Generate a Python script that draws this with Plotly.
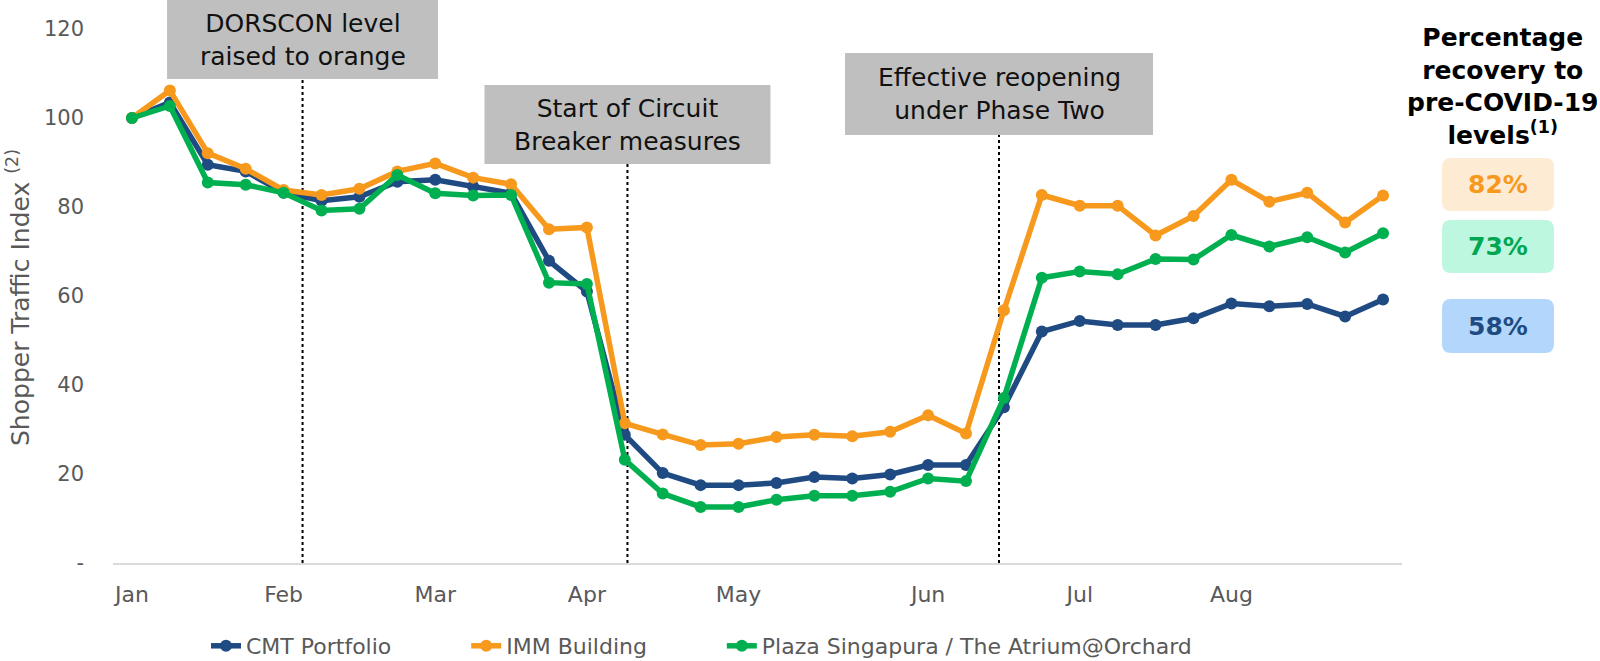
import plotly.graph_objects as go

# ---------------- data ----------------
weeks = list(range(34))
month_tick_pos = [0, 4, 8, 12, 16, 21, 25, 29]
month_labels = ["Jan", "Feb", "Mar", "Apr", "May", "Jun", "Jul", "Aug"]
y_tick_vals = [0, 20, 40, 60, 80, 100, 120]
y_tick_text = ["-", "20", "40", "60", "80", "100", "120"]

cmt = [100, 103.5, 89.5, 88.0, 83.2, 81.4, 82.3, 85.7, 86.1, 84.6, 83.1, 67.9, 61.0,
       28.8, 20.2, 17.5, 17.5, 18.0, 19.3, 19.0, 19.9, 22.0, 22.0,
       35.0, 52.0, 54.4, 53.5, 53.5, 55.0, 58.3, 57.7, 58.2, 55.4, 59.2]
imm = [100, 106.2, 92.1, 88.6, 83.8, 82.7, 84.1, 88.0, 89.8, 86.6, 85.1, 75.0, 75.4,
       31.4, 28.9, 26.5, 26.8, 28.3, 28.8, 28.5, 29.5, 33.2, 29.1,
       56.8, 82.7, 80.3, 80.3, 73.6, 78.0, 86.1, 81.2, 83.2, 76.5, 82.6]
plaza = [100, 102.7, 85.5, 85.0, 83.2, 79.2, 79.6, 87.2, 83.1, 82.6, 82.7, 63.0, 62.7,
         23.2, 15.6, 12.6, 12.6, 14.2, 15.1, 15.1, 16.0, 19.0, 18.4,
         37.1, 64.1, 65.5, 64.9, 68.3, 68.2, 73.7, 71.1, 73.2, 69.8, 74.1]

series_names = ["CMT Portfolio", "IMM Building", "Plaza Singapura / The Atrium@Orchard"]

event_pos = [4.5, 13.07, 22.87]
event_text = ["DORSCON level<br>raised to orange",
              "Start of Circuit<br>Breaker measures",
              "Effective reopening<br>under Phase Two"]

recovery_labels = ["82%", "73%", "58%"]

# ---------------- styling / layout constants ----------------
W, H = 1600, 661
ML, MR, MT, MB = 113, 198, 29, 98
PW = W - ML - MR
PH = H - MT - MB
XMIN, XMAX = -0.5, 33.5
STEP = PW / (XMAX - XMIN)

def px_x(px):
    return (px - ML) / PW

def px_y(py):
    return (H - MB - py) / PH

FONT = "DejaVu Sans"
GREY = "#595959"
colors = ["#1F4B82", "#F7991C", "#00B050"]
NB = "\u00a0"
legend_pad = [10, 10, 0]   # spacing between legend entries

fig = go.Figure()
for name, vals, col, pad in zip(series_names, [cmt, imm, plaza], colors, legend_pad):
    fig.add_trace(go.Scatter(
        x=weeks, y=vals, name=name + NB * pad, mode="lines+markers",
        line=dict(color=col, width=5.5),
        marker=dict(color=col, size=12),
    ))

shapes = []
annotations = []

# event boxes (pixel widths / vertical extents)
box_w_px = [271, 286, 308]
box_top_px = [-5, 85, 53]
box_bot_px = [79, 164, 135]
for pos, txt, wpx, tpx, bpx in zip(event_pos, event_text, box_w_px, box_top_px, box_bot_px):
    half = wpx / STEP / 2
    shapes.append(dict(type="rect", xref="x", yref="paper",
                       x0=pos - half, x1=pos + half,
                       y0=px_y(bpx), y1=px_y(tpx),
                       fillcolor="#BFBFBF", line=dict(width=0), layer="above"))
    shapes.append(dict(type="line", xref="x", yref="paper",
                       x0=pos, x1=pos, y0=0, y1=px_y(bpx),
                       line=dict(color="#000000", width=2, dash="dot"), layer="below"))
    annotations.append(dict(xref="x", yref="paper", x=pos,
                            y=px_y((max(tpx, 0) + bpx) / 2),
                            text=txt, showarrow=False, xanchor="center", yanchor="middle",
                            font=dict(family=FONT, size=25, color="#111111")))

# right panel title
annotations.append(dict(xref="paper", yref="paper", x=px_x(1503), y=px_y(86),
                        text="<b>Percentage<br>recovery to<br>pre-COVID-19<br>levels<sup>(1)</sup></b>",
                        showarrow=False, xanchor="center", yanchor="middle",
                        font=dict(family=FONT, size=25, color="#000000")))

# recovery badges
badge_bg = ["#FEEBD3", "#BDF7DF", "#B3D7FC"]
badge_fg = ["#F7991C", "#00A651", "#1F4B82"]
badge_y = [(158, 211), (220, 273), (299, 353)]
bx0, bx1 = 1442, 1554
r = 9

def rounded_rect(x0, y0, x1, y1, r):
    X = px_x
    Y = px_y
    return (f"M{X(x0 + r)},{Y(y0)} L{X(x1 - r)},{Y(y0)} Q{X(x1)},{Y(y0)} {X(x1)},{Y(y0 + r)} "
            f"L{X(x1)},{Y(y1 - r)} Q{X(x1)},{Y(y1)} {X(x1 - r)},{Y(y1)} "
            f"L{X(x0 + r)},{Y(y1)} Q{X(x0)},{Y(y1)} {X(x0)},{Y(y1 - r)} "
            f"L{X(x0)},{Y(y0 + r)} Q{X(x0)},{Y(y0)} {X(x0 + r)},{Y(y0)} Z")

for lab, bg, fg, (t, b) in zip(recovery_labels, badge_bg, badge_fg, badge_y):
    shapes.append(dict(type="path", xref="paper", yref="paper",
                       path=rounded_rect(bx0, t, bx1, b, r),
                       fillcolor=bg, line=dict(width=0)))
    annotations.append(dict(xref="paper", yref="paper", x=px_x((bx0 + bx1) / 2),
                            y=px_y((t + b) / 2), text=f"<b>{lab}</b>", showarrow=False,
                            xanchor="center", yanchor="middle",
                            font=dict(family=FONT, size=25, color=fg)))

# y axis title
annotations.append(dict(xref="paper", yref="paper", x=px_x(18), y=px_y(298),
                        text="Shopper Traffic Index <sup>(2)</sup>", textangle=-90,
                        showarrow=False, xanchor="center", yanchor="middle",
                        font=dict(family=FONT, size=25, color=GREY)))

fig.update_layout(
    width=W, height=H,
    margin=dict(l=ML, r=MR, t=MT, b=MB, pad=0, autoexpand=False),
    paper_bgcolor="white", plot_bgcolor="white",
    font=dict(family=FONT, color=GREY),
    showlegend=True,
    legend=dict(orientation="h", xref="container", yref="container",
                x=206 / W, y=1 - 646 / H, xanchor="left", yanchor="middle",
                font=dict(family=FONT, size=22, color=GREY),
                bgcolor="rgba(0,0,0,0)"),
    xaxis=dict(range=[XMIN, XMAX], tickmode="array", tickvals=month_tick_pos,
               ticktext=month_labels, showgrid=False, zeroline=False,
               showline=True, linecolor="#D9D9D9", linewidth=2, ticks="",
               tickfont=dict(family=FONT, size=22, color=GREY), ticklabelstandoff=11),
    yaxis=dict(range=[0, 120], tickmode="array", tickvals=y_tick_vals, ticktext=y_tick_text,
               showgrid=False, zeroline=False, showline=False, ticks="",
               tickfont=dict(family=FONT, size=21, color=GREY), ticklabelstandoff=28),
    shapes=shapes,
    annotations=annotations,
)

fig.write_html("out.html", config={"displayModeBar": False},
               post_script="document.body.style.margin='0';")
